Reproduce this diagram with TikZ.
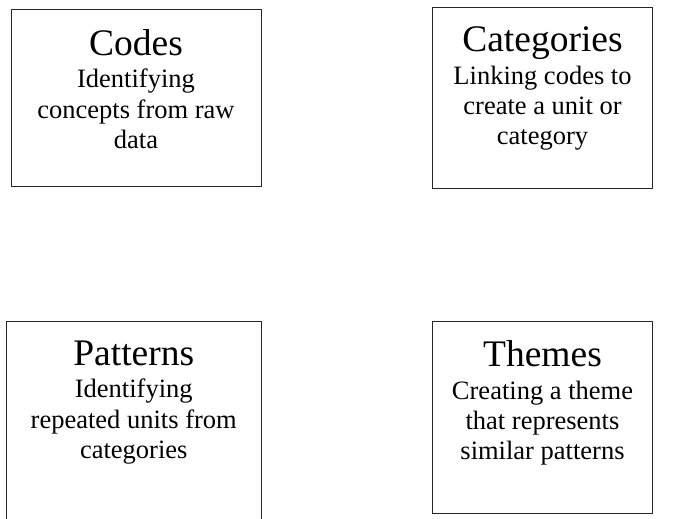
\documentclass[tikz,border=0pt]{standalone}
\usepackage{fontspec}
\setmainfont{Liberation Serif}
\begin{document}
\begin{tikzpicture}[x=1pt,y=1pt,
  box/.style={draw=black!85,line width=0.9pt,inner sep=0pt,rectangle},
  card/.style={align=center,inner sep=0pt,anchor=north,
    font=\fontsize{26.5}{30.3}\selectfont},
]
\newcommand\headline[1]{{\fontsize{37.5}{37.5}\selectfont #1}\\[2.2pt]}
\useasboundingbox (0,0) rectangle (678,519);
% boxes (x from the left, y from the bottom)
\node[box,minimum width=250pt,minimum height=176.5pt] (codes) at (136,421.25) {};
\node[box,minimum width=220pt,minimum height=180.5pt] (categories) at (542.5,421.25) {};
\node[box,minimum width=254.5pt,minimum height=210pt] (patterns) at (133.75,92.5) {};
\node[box,minimum width=220pt,minimum height=192pt] (themes) at (542.5,101.5) {};
% texts
\node[card] (codesT) at ([yshift=-20pt]codes.north)
  {\headline{Codes}Identifying\\concepts from raw\\data};
\node[card] (categoriesT) at ([yshift=-19.5pt]categories.north)
  {\headline{Categories}Linking codes to\\create a unit or\\category};
\node[card] (patternsT) at ([yshift=-19.5pt]patterns.north)
  {\headline{Patterns}Identifying\\repeated units from\\categories};
\node[card] (themesT) at ([yshift=-19.5pt]themes.north)
  {\headline{Themes}Creating a theme\\that represents\\similar patterns};
\end{tikzpicture}
\end{document}
